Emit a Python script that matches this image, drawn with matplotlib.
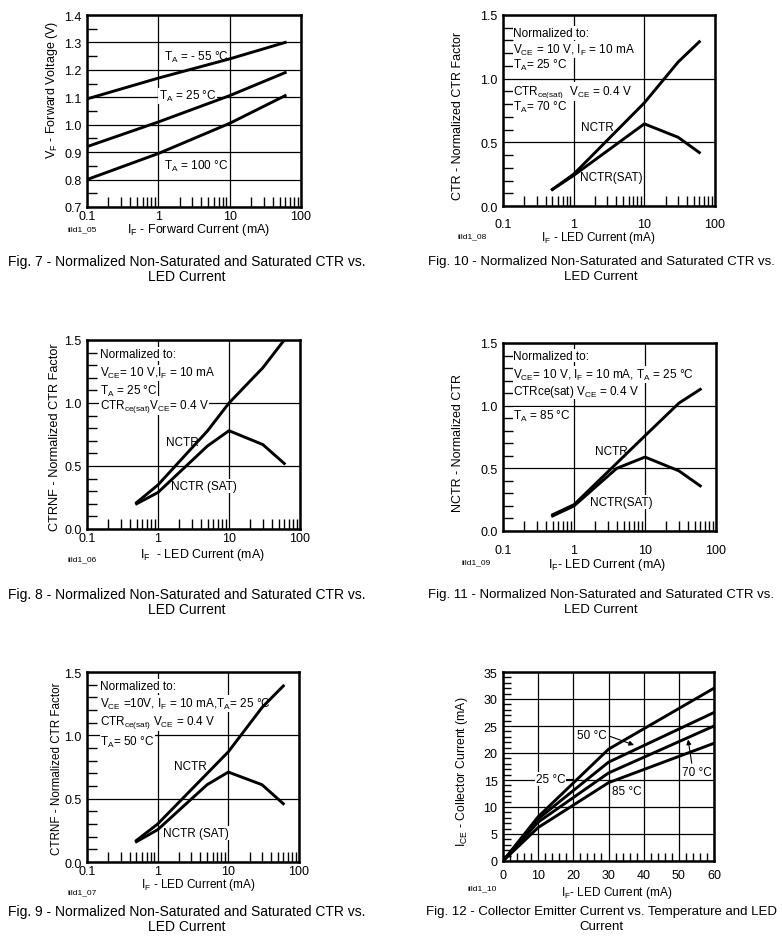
import numpy as np
import matplotlib
matplotlib.use('Agg')
from matplotlib import pyplot as plt
from matplotlib.ticker import FixedLocator, FixedFormatter, NullFormatter, LogLocator, MultipleLocator

plt.rcParams['font.family'] = ['Liberation Sans', 'DejaVu Sans']
plt.rcParams['mathtext.default'] = 'regular'

W, H = 782, 945

# Fig. 7 - forward voltage vs forward current
if_fig7 = [0.1, 1, 10, 60]
vf_m55 = [1.094, 1.17, 1.24, 1.30]
vf_25 = [0.92, 1.01, 1.106, 1.19]
vf_100 = [0.80, 0.895, 1.005, 1.106]

# Fig. 8 - 25 C
if_nctr8 = [0.5, 1, 5, 10, 30, 60]
nctr8 = [0.21, 0.35, 0.78, 1.0, 1.28, 1.5]
if_sat8 = [0.5, 1, 5, 10, 30, 60]
sat8 = [0.2, 0.29, 0.66, 0.78, 0.67, 0.52]

# Fig. 9 - 50 C
if_nctr9 = [0.5, 1, 10, 30, 60]
nctr9 = [0.17, 0.30, 0.87, 1.22, 1.39]
if_sat9 = [0.5, 1, 5, 10, 30, 60]
sat9 = [0.16, 0.255, 0.61, 0.71, 0.61, 0.46]

# Fig. 10 - 70 C
if_nctr10 = [0.5, 1, 10, 30, 60]
nctr10 = [0.13, 0.25, 0.81, 1.13, 1.29]
if_sat10 = [0.5, 1, 10, 30, 60]
sat10 = [0.13, 0.24, 0.645, 0.54, 0.42]

# Fig. 11 - 85 C
if_nctr11 = [0.5, 1, 10, 30, 60]
nctr11 = [0.13, 0.21, 0.76, 1.02, 1.13]
if_sat11 = [0.5, 1, 4, 10, 30, 60]
sat11 = [0.12, 0.20, 0.50, 0.59, 0.48, 0.36]

# Fig. 12 - collector current vs LED current
if_fig12 = [0, 10, 30, 60]
ice_25 = [0, 8.2, 20.7, 32.0]
ice_50 = [0, 7.8, 18.3, 27.5]
ice_70 = [0, 7.2, 16.3, 25.0]
ice_85 = [0, 6.2, 14.5, 21.8]

fig = plt.figure(figsize=(W / 100, H / 100), dpi=100)

LW = 2.1
TXT = 8.5
box = dict(facecolor='white', edgecolor='none', pad=0.5)


def px_axes(left, top, right, bottom):
    return fig.add_axes([left / W, 1 - bottom / H, (right - left) / W, (bottom - top) / H])


def ftext(x, y, s, **kw):
    # figure text placed by pixel position (from top left)
    fig.text(x / W, 1 - y / H, s, **kw)


def note(ax, x, y, s, **kw):
    # white box hides grid lines, curves stay on top
    ax.text(x, y, s, fontsize=TXT, va='center', bbox=box, zorder=2.1, **kw)


def curve(ax, x, y):
    ax.plot(x, y, color='black', lw=LW, zorder=3)


def frame(ax):
    for sp in ax.spines.values():
        sp.set_linewidth(1.8)
        sp.set_zorder(4)
    ax.set_axisbelow(True)
    ax.grid(True, which='major', color='black', linewidth=0.9)


def log_axes(ax, ylo, yhi, ymaj, ymin, yfmt, xpad):
    ax.set_xscale('log')
    ax.set_xlim(0.1, 100)
    ax.set_ylim(ylo, yhi)
    ax.xaxis.set_major_locator(FixedLocator([0.1, 1, 10, 100]))
    ax.xaxis.set_major_formatter(FixedFormatter(['0.1', '1', '10', '100']))
    ax.xaxis.set_minor_locator(LogLocator(base=10, subs=np.arange(2, 10)))
    ax.xaxis.set_minor_formatter(NullFormatter())
    ax.yaxis.set_major_locator(MultipleLocator(ymaj))
    ax.yaxis.set_minor_locator(MultipleLocator(ymin))
    ax.yaxis.set_major_formatter(plt.FormatStrFormatter(yfmt))
    ax.tick_params(axis='x', which='major', length=0, pad=xpad, labelsize=9)
    ax.tick_params(axis='y', which='major', length=0, pad=4, labelsize=9)
    ax.tick_params(which='minor', direction='in', length=7, width=1)
    frame(ax)


# ---------------- Fig. 7 ----------------
ax7 = px_axes(87, 16, 301, 208)
log_axes(ax7, 0.7, 1.4, 0.1, 0.05, '%.1f', 2)
curve(ax7, if_fig7, vf_m55)
curve(ax7, if_fig7, vf_25)
curve(ax7, if_fig7, vf_100)
note(ax7, 1.2, 1.25, '$T_A$ = - 55 °C')
note(ax7, 1.02, 1.105, '$T_A$ = 25 °C')
note(ax7, 1.2, 0.85, '$T_A$ = 100 °C')
ftext(52, 90, '$V_F$ - Forward Voltage (V)', rotation=90, fontsize=9, ha='center', va='center')
ftext(199, 230, '$I_F$ - Forward Current (mA)', fontsize=9, ha='center', va='center')
ftext(68, 230, 'iild1_05', fontsize=6, va='center')

# ---------------- Fig. 10 ----------------
ax10 = px_axes(503, 16, 715, 207)
log_axes(ax10, 0, 1.5, 0.5, 0.1, '%.1f', 9)
curve(ax10, if_nctr10, nctr10)
curve(ax10, if_sat10, sat10)
note(ax10, 0.14, 1.36, 'Normalized to:')
note(ax10, 0.14, 1.23, '$V_{CE}$ = 10 V, $I_F$ = 10 mA')
note(ax10, 0.14, 1.11, '$T_A$= 25 °C')
note(ax10, 0.14, 0.90, '$CTR_{ce(sat)}$  $V_{CE}$ = 0.4 V')
note(ax10, 0.14, 0.78, '$T_A$= 70 °C')
note(ax10, 2.2, 0.62, 'NCTR', ha='center')
note(ax10, 3.4, 0.23, 'NCTR(SAT)', ha='center')
ftext(458, 116, 'CTR - Normalized CTR Factor', rotation=90, fontsize=9, ha='center', va='center')
ftext(598, 238, '$I_F$ - LED Current (mA)', fontsize=8.5, ha='center', va='center')
ftext(458, 237, 'iild1_08', fontsize=6, va='center')

# ---------------- Fig. 8 ----------------
ax8 = px_axes(87, 341, 300, 530)
log_axes(ax8, 0, 1.5, 0.5, 0.1, '%.1f', 2)
curve(ax8, if_nctr8, nctr8)
curve(ax8, if_sat8, sat8)
note(ax8, 0.15, 1.39, 'Normalized to:')
note(ax8, 0.15, 1.24, '$V_{CE}$= 10 V,$I_F$ = 10 mA')
note(ax8, 0.15, 1.10, '$T_A$ = 25 °C')
note(ax8, 0.15, 0.98, '$CTR_{ce(sat)}V_{CE}$= 0.4 V')
note(ax8, 2.2, 0.69, 'NCTR', ha='center')
note(ax8, 4.5, 0.34, 'NCTR (SAT)', ha='center')
ftext(55, 437, 'CTRNF - Normalized CTR Factor', rotation=90, fontsize=9.2, ha='center', va='center')
ftext(203, 555, '$I_F$  - LED Current (mA)', fontsize=9, ha='center', va='center')
ftext(68, 560, 'iild1_06', fontsize=6, va='center')

# ---------------- Fig. 11 ----------------
ax11 = px_axes(503, 344, 716, 532)
log_axes(ax11, 0, 1.5, 0.5, 0.1, '%.1f', 9)
curve(ax11, if_nctr11, nctr11)
curve(ax11, if_sat11, sat11)
note(ax11, 0.14, 1.40, 'Normalized to:')
note(ax11, 0.14, 1.25, '$V_{CE}$= 10 V, $I_F$ = 10 mA, $T_A$ = 25 °C')
note(ax11, 0.14, 1.12, 'CTRce(sat) $V_{CE}$ = 0.4 V')
note(ax11, 0.14, 0.92, '$T_A$ = 85 °C')
note(ax11, 3.4, 0.64, 'NCTR', ha='center')
note(ax11, 4.6, 0.23, 'NCTR(SAT)', ha='center')
ftext(458, 443, 'NCTR - Normalized CTR', rotation=90, fontsize=9, ha='center', va='center')
ftext(607, 565, '$I_F$- LED Current (mA)', fontsize=9, ha='center', va='center')
ftext(462, 563, 'iild1_09', fontsize=6, va='center')

# ---------------- Fig. 9 ----------------
ax9 = px_axes(87, 673, 299, 863)
log_axes(ax9, 0, 1.5, 0.5, 0.1, '%.1f', 2)
curve(ax9, if_nctr9, nctr9)
curve(ax9, if_sat9, sat9)
note(ax9, 0.155, 1.39, 'Normalized to:')
note(ax9, 0.155, 1.25, '$V_{CE}$ =10V, $I_F$ = 10 mA,$T_A$= 25 °C')
note(ax9, 0.155, 1.11, '$CTR_{ce(sat)}$ $V_{CE}$ = 0.4 V')
note(ax9, 0.155, 0.95, '$T_A$= 50 °C')
note(ax9, 2.9, 0.76, 'NCTR', ha='center')
note(ax9, 3.5, 0.23, 'NCTR (SAT)', ha='center')
ftext(57, 769, 'CTRNF - Normalized CTR Factor', rotation=90, fontsize=8.4, ha='center', va='center')
ftext(198, 885, '$I_F$ - LED Current (mA)', fontsize=8.5, ha='center', va='center')
ftext(68, 893, 'iild1_07', fontsize=6, va='center')

# ---------------- Fig. 12 ----------------
ax12 = px_axes(503, 673, 714, 862)
ax12.set_xlim(0, 60)
ax12.set_ylim(0, 35)
ax12.xaxis.set_major_locator(MultipleLocator(10))
ax12.xaxis.set_minor_locator(MultipleLocator(2))
ax12.yaxis.set_major_locator(MultipleLocator(5))
ax12.yaxis.set_minor_locator(MultipleLocator(1))
ax12.tick_params(axis='x', which='major', length=0, pad=6, labelsize=9)
ax12.tick_params(axis='y', which='major', length=0, pad=4, labelsize=9)
ax12.tick_params(which='minor', direction='in', length=6, width=1)
frame(ax12)
for ice in [ice_25, ice_50, ice_70, ice_85]:
    curve(ax12, if_fig12, ice)
note(ax12, 17.8, 15.2, '25 °C', ha='right')
ax12.plot([17.8, 20.0], [15.2, 15.2], color='black', lw=0.8)
note(ax12, 29.5, 23.3, '50 °C', ha='right')
ax12.annotate('', xy=(38, 21.3), xytext=(29.5, 23.3),
              arrowprops=dict(arrowstyle='-|>', color='black', lw=0.8, mutation_scale=7))
note(ax12, 55, 16.5, '70 °C', ha='center')
ax12.annotate('', xy=(52.5, 23.0), xytext=(53.8, 17.6),
              arrowprops=dict(arrowstyle='-|>', color='black', lw=0.8, mutation_scale=7))
note(ax12, 31, 13.0, '85 °C', ha='left')
ftext(462, 772, '$I_{CE}$ - Collector Current (mA)', rotation=90, fontsize=8.8, ha='center', va='center')
ftext(617, 893, '$I_F$- LED Current (mA)', fontsize=8.5, ha='center', va='center')
ftext(468, 889, 'iild1_10', fontsize=6, va='center')

# ---------------- captions ----------------
capL = 10.0
capR = 9.5
ftext(187, 262, 'Fig. 7 - Normalized Non-Saturated and Saturated CTR vs.', fontsize=capL, ha='center', va='center')
ftext(187, 277, 'LED Current', fontsize=capL, ha='center', va='center')
ftext(601, 262, 'Fig. 10 - Normalized Non-Saturated and Saturated CTR vs.', fontsize=capR, ha='center', va='center')
ftext(601, 277, 'LED Current', fontsize=capR, ha='center', va='center')
ftext(187, 595, 'Fig. 8 - Normalized Non-Saturated and Saturated CTR vs.', fontsize=capL, ha='center', va='center')
ftext(187, 610, 'LED Current', fontsize=capL, ha='center', va='center')
ftext(601, 595, 'Fig. 11 - Normalized Non-Saturated and Saturated CTR vs.', fontsize=capR, ha='center', va='center')
ftext(601, 610, 'LED Current', fontsize=capR, ha='center', va='center')
ftext(187, 912, 'Fig. 9 - Normalized Non-Saturated and Saturated CTR vs.', fontsize=capL, ha='center', va='center')
ftext(187, 927, 'LED Current', fontsize=capL, ha='center', va='center')
ftext(601, 912, 'Fig. 12 - Collector Emitter Current vs. Temperature and LED', fontsize=capR, ha='center', va='center')
ftext(601, 927, 'Current', fontsize=capR, ha='center', va='center')

plt.savefig('out.png', dpi=100)
